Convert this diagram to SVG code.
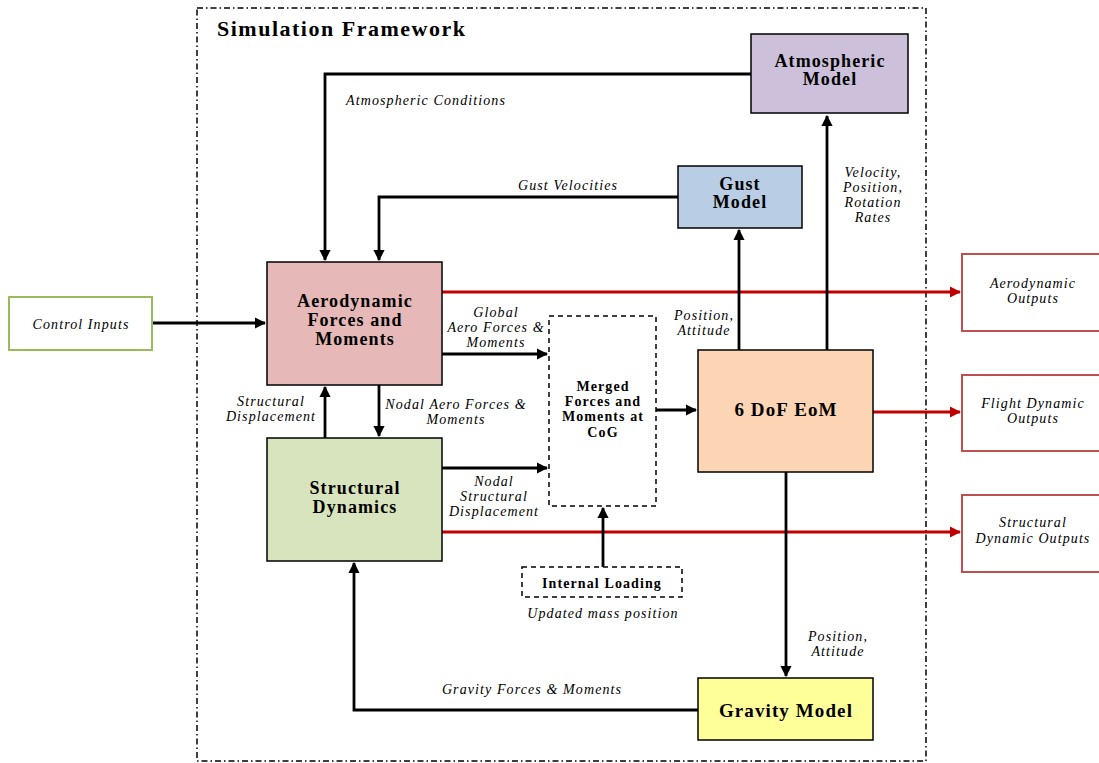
<svg xmlns="http://www.w3.org/2000/svg" width="1099" height="763" viewBox="0 0 1099 763">
<defs>
<style>
.box{stroke:#000;stroke-width:1.5}
.dash{fill:#fff;stroke:#000;stroke-width:1.5;stroke-dasharray:5,4}
.out{fill:#fff;stroke:#c0504d;stroke-width:2}
.nb{font-family:"Liberation Serif","Times New Roman",serif;font-weight:bold;text-anchor:middle;fill:#000;letter-spacing:1.1px}
.lb{font-family:"Liberation Serif","Times New Roman",serif;font-style:italic;font-size:14px;text-anchor:middle;fill:#000;letter-spacing:1.1px}
.c{fill:none;stroke:#000;stroke-width:2.8}
.r{fill:none;stroke:#c00000;stroke-width:2.8}
</style>
<marker id="ak" viewBox="0 0 10 10" refX="9" refY="5" markerWidth="4" markerHeight="4" orient="auto" markerUnits="strokeWidth"><path d="M0,0 L10,5 L0,10 z" fill="#000"/></marker>
<marker id="ar" viewBox="0 0 10 10" refX="9" refY="5" markerWidth="4" markerHeight="4" orient="auto" markerUnits="strokeWidth"><path d="M0,0 L10,5 L0,10 z" fill="#c00000"/></marker>
</defs>
<rect width="1099" height="763" fill="#fff"/>
<g id="frame">
<rect x="197" y="8" width="729" height="753" fill="none" stroke="#000" stroke-width="1.5" stroke-dasharray="6,3,1.5,3"/>
<text x="217" y="36" font-family="Liberation Serif,serif" font-weight="bold" font-size="22" letter-spacing="1.5">Simulation Framework</text>
</g>
<g id="connectors">
<polyline class="c" points="751,74 325,74 325,260" marker-end="url(#ak)"/>
<polyline class="c" points="678,197 379,197 379,260" marker-end="url(#ak)"/>
<line class="c" x1="152" y1="323" x2="265" y2="323" marker-end="url(#ak)"/>
<line class="r" x1="442" y1="292" x2="960" y2="292" marker-end="url(#ar)"/>
<line class="c" x1="442" y1="354" x2="547" y2="354" marker-end="url(#ak)"/>
<line class="c" x1="379" y1="385" x2="379" y2="436" marker-end="url(#ak)"/>
<line class="c" x1="325" y1="438" x2="325" y2="387" marker-end="url(#ak)"/>
<line class="c" x1="442" y1="468" x2="547" y2="468" marker-end="url(#ak)"/>
<line class="r" x1="442" y1="532" x2="960" y2="532" marker-end="url(#ar)"/>
<line class="c" x1="603" y1="567" x2="603" y2="508" stroke-width="2" marker-end="url(#ak)"/>
<line class="c" x1="656" y1="410" x2="696" y2="410" marker-end="url(#ak)"/>
<line class="c" x1="739" y1="350" x2="739" y2="230" marker-end="url(#ak)"/>
<line class="c" x1="827" y1="350" x2="827" y2="116" marker-end="url(#ak)"/>
<line class="r" x1="873" y1="412" x2="960" y2="412" marker-end="url(#ar)"/>
<line class="c" x1="786" y1="472" x2="786" y2="676" marker-end="url(#ak)"/>
<polyline class="c" points="698,710 354,710 354,563" marker-end="url(#ak)"/>
<text class="lb" x="426" y="105">Atmospheric Conditions</text>
<text class="lb" x="568" y="190">Gust Velocities</text>
<text class="lb"><tspan x="496" y="317">Global</tspan><tspan x="496" y="332">Aero Forces &amp;</tspan><tspan x="496" y="347">Moments</tspan></text>
<text class="lb"><tspan x="456" y="409">Nodal Aero Forces &amp;</tspan><tspan x="456" y="424">Moments</tspan></text>
<text class="lb"><tspan x="271" y="406">Structural</tspan><tspan x="271" y="421">Displacement</tspan></text>
<text class="lb"><tspan x="494" y="486">Nodal</tspan><tspan x="494" y="501">Structural</tspan><tspan x="494" y="516">Displacement</tspan></text>
<text class="lb" x="603" y="618">Updated mass position</text>
<text class="lb"><tspan x="704" y="320">Position,</tspan><tspan x="704" y="335">Attitude</tspan></text>
<text class="lb"><tspan x="873" y="177">Velocity,</tspan><tspan x="873" y="192">Position,</tspan><tspan x="873" y="207">Rotation</tspan><tspan x="873" y="222">Rates</tspan></text>
<text class="lb"><tspan x="838" y="641">Position,</tspan><tspan x="838" y="656">Attitude</tspan></text>
<text class="lb" x="532" y="694">Gravity Forces &amp; Moments</text>
</g>
<g id="atmospheric">
<rect class="box" x="751" y="34" width="157" height="79" fill="#ccc0da"/>
<text class="nb" font-size="18"><tspan x="830" y="67">Atmospheric</tspan><tspan x="830" y="85">Model</tspan></text>
</g>
<g id="gust">
<rect class="box" x="678" y="166" width="124" height="62" fill="#b9cde5"/>
<text class="nb" font-size="18"><tspan x="740" y="190">Gust</tspan><tspan x="740" y="208">Model</tspan></text>
</g>
<g id="aero">
<rect class="box" x="267" y="262" width="175" height="123" fill="#e6b8b7"/>
<text class="nb" font-size="18"><tspan x="355" y="307">Aerodynamic</tspan><tspan x="355" y="326">Forces and</tspan><tspan x="355" y="345">Moments</tspan></text>
</g>
<g id="structural">
<rect class="box" x="267" y="438" width="175" height="123" fill="#d7e4bd"/>
<text class="nb" font-size="18"><tspan x="355" y="494">Structural</tspan><tspan x="355" y="513">Dynamics</tspan></text>
</g>
<g id="control">
<rect x="9" y="297" width="143" height="53" fill="#fff" stroke="#9bbb59" stroke-width="2"/>
<text class="lb" font-size="15" x="81" y="329">Control Inputs</text>
</g>
<g id="merged">
<rect class="dash" x="549" y="316" width="107" height="190"/>
<text class="nb" font-size="14"><tspan x="603" y="391">Merged</tspan><tspan x="603" y="406">Forces and</tspan><tspan x="603" y="421">Moments at</tspan><tspan x="603" y="437">CoG</tspan></text>
</g>
<g id="eom">
<rect class="box" x="698" y="350" width="175" height="122" fill="#fcd5b4"/>
<text class="nb" font-size="19" x="786" y="416">6 DoF EoM</text>
</g>
<g id="internal">
<rect class="dash" x="522" y="567" width="160" height="30"/>
<text class="nb" font-size="14" x="602" y="588">Internal Loading</text>
</g>
<g id="gravity">
<rect class="box" x="698" y="678" width="175" height="62" fill="#ffff99"/>
<text class="nb" font-size="19" x="786" y="717">Gravity Model</text>
</g>
<g id="out-aero">
<rect class="out" x="962" y="254" width="150" height="77"/>
<text class="lb"><tspan x="1033" y="288">Aerodynamic</tspan><tspan x="1033" y="303">Outputs</tspan></text>
</g>
<g id="out-flight">
<rect class="out" x="962" y="375" width="150" height="76"/>
<text class="lb"><tspan x="1033" y="408">Flight Dynamic</tspan><tspan x="1033" y="423">Outputs</tspan></text>
</g>
<g id="out-struct">
<rect class="out" x="962" y="495" width="150" height="77"/>
<text class="lb"><tspan x="1033" y="527">Structural</tspan><tspan x="1033" y="543">Dynamic Outputs</tspan></text>
</g>
</svg>
